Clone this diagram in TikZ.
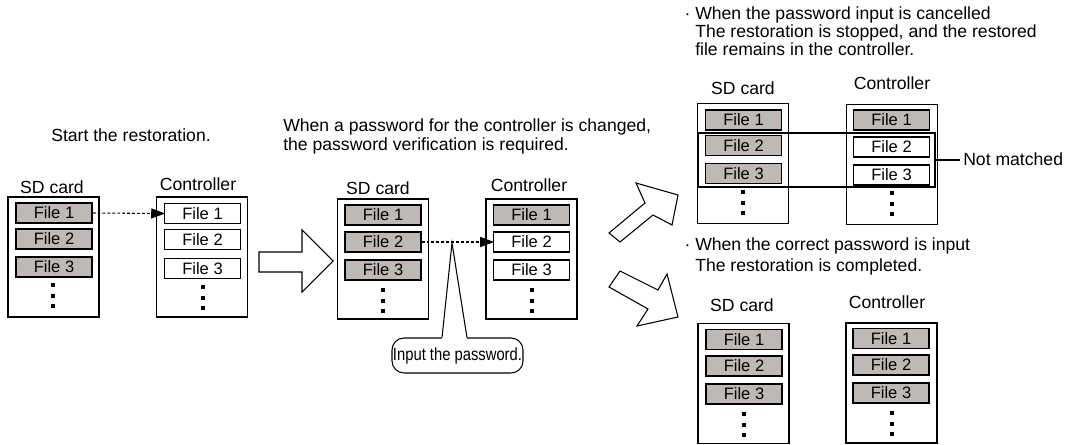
\documentclass[tikz,border=0pt]{standalone}
\usepackage{fontspec}
\setmainfont{Liberation Sans}
\newfontfamily\narrowfont[FakeStretch=0.84]{Liberation Sans}
\usetikzlibrary{arrows.meta,positioning}
\definecolor{filegray}{RGB}{190,185,182}
\begin{document}
\begin{tikzpicture}[x=0.75pt,y=-0.75pt,>=Latex,font=\fontsize{13.2}{14.25}\selectfont,
 box/.style={draw,line width=0.8pt,minimum width=68.25pt,minimum height=90pt,inner sep=0pt},
 fg/.style={draw,line width=0.9pt,fill=filegray,minimum width=57pt,minimum height=15pt,inner sep=0pt,font=\fontsize{12.4}{14}\selectfont},
 fw/.style={fg,fill=white},
 lbl/.style={inner sep=0pt},
 vd/.style={line width=3pt,dash pattern=on 3pt off 4.9pt},
 cp/.style={->,line width=0.8pt,dash pattern=on 2.2pt off 1.5pt,shorten >=-1pt,>={Triangle[length=10.5pt,width=7.5pt]}},
 hollow/.style={draw,line width=0.8pt,fill=white,line join=miter},
 hl/.style={draw,line width=1.6pt,minimum width=177.75pt,minimum height=40.5pt,inner sep=0pt},
 callbox/.style={draw,line width=0.8pt,fill=white,rounded corners=9pt,minimum width=98.25pt,minimum height=26.25pt,inner sep=0pt,font=\narrowfont\fontsize{13.2}{14}\selectfont}]
\useasboundingbox (0,0) rectangle (1084,445);
\node[lbl] (t1) at (131,135) {Start the restoration.};
\node[lbl,anchor=west,align=left] (t2) at (283,136.5) {When a password for the controller is changed,\\the password verification is required.};
\node[lbl,anchor=west,align=left,font=\fontsize{13.2}{13.5}\selectfont] (t3) at (695,31) {\llap{·\ }When the password input is cancelled\\The restoration is stopped, and the restored\\file remains in the controller.};
\node[lbl,anchor=west,align=left,font=\fontsize{13.2}{15.5}\selectfont] (t4) at (695,256.5) {\llap{·\ }When the correct password is input\\The restoration is completed.};
\node[box] (sd1) at (53.5,257) {}; \node[lbl] (sd1l) at (52,187) {SD card};
\node[fg] (sd1a) at (54,213) {File 1}; \node[fg] (sd1b) at (54,239) {File 2}; \node[fg] (sd1c) at (54,267) {File 3};
\draw[vd] (53,283) -- (53,312);
\node[box] (c1) at (202,257) {}; \node[lbl] (c1l) at (198,184) {Controller};
\node[fw] (c1a) at (202.5,213.5) {File 1}; \node[fw] (c1b) at (202.5,239.5) {File 2}; \node[fw] (c1c) at (202.5,268.5) {File 3};
\draw[vd] (203,285) -- (203,314);
\draw[hollow] (259,252) -- (302,252) -- (302,230) -- (333,261) -- (302,292) -- (302,272) -- (259,272) -- cycle;
\node[box] (sd2) at (383,259) {}; \node[lbl] (sd2l) at (378,188) {SD card};
\node[fg] (sd2a) at (383,215) {File 1}; \node[fg] (sd2b) at (383,242) {File 2}; \node[fg] (sd2c) at (383,270) {File 3};
\draw[vd] (383,288) -- (383,317);
\node[box] (c2) at (531.5,259) {}; \node[lbl] (c2l) at (529,185) {Controller};
\node[fg] (c2a) at (531.5,215) {File 1}; \node[fw] (c2b) at (531.5,242) {File 2}; \node[fw] (c2c) at (531.5,270) {File 3};
\draw[vd] (532,288) -- (532,317);
\node[callbox] (inp) at (457.5,355.5) {Input the password.};
\coordinate (ptip) at (452,243);
\fill[white] ([xshift=-11.6pt,yshift=-1pt]inp.north) -- (ptip) -- ([xshift=7.1pt,yshift=-1pt]inp.north) -- cycle;
\draw[line width=0.8pt] ([xshift=-11.6pt]inp.north) -- (ptip) -- ([xshift=7.1pt]inp.north);
\draw[cp] (sd1a.east) -- (c1a.west);
\draw[cp] (sd2b.east) -- (c2b.west);
\draw[hollow] (609,233) -- (645,203) -- (636,183) -- (678,195) -- (672,225) -- (653,215) -- (620,242) -- cycle;
\draw[hollow] (620,271) -- (658,290) -- (667,274) -- (678,317) -- (637,326) -- (648,309) -- (609,287) -- cycle;
\node[box] (sd3) at (743,163.5) {}; \node[lbl] (sd3l) at (743,88) {SD card};
\node[fg] (sd3a) at (743.5,120) {File 1}; \node[fg] (sd3b) at (743.5,145.5) {File 2}; \node[fg] (sd3c) at (743.5,173.5) {File 3};
\draw[vd] (743,190) -- (743,219);
\node[box] (c3) at (892,164.5) {}; \node[lbl] (c3l) at (892,83) {Controller};
\node[fg] (c3a) at (891.5,120) {File 1}; \node[fw] (c3b) at (891.5,147) {File 2}; \node[fw] (c3c) at (891.5,175) {File 3};
\draw[vd] (892,191) -- (892,220);
\node[hl] (nm) at (816.5,160) {};
\node[lbl,anchor=west] (nmt) at (963,159) {Not matched};
\draw[line width=1.6pt] (nm.east) -- ([xshift=-2pt]nm.east -| nmt.west);
\node[box] (sd4) at (743.5,383.5) {}; \node[lbl] (sd4l) at (742,305) {SD card};
\node[fg] (sd4a) at (744,339.5) {File 1}; \node[fg] (sd4b) at (744,366) {File 2}; \node[fg] (sd4c) at (744,394) {File 3};
\draw[vd] (744,412) -- (744,441);
\node[box] (c4) at (891.5,383) {}; \node[lbl] (c4l) at (887,302) {Controller};
\node[fg] (c4a) at (891,338.5) {File 1}; \node[fg] (c4b) at (891,365) {File 2}; \node[fg] (c4c) at (891,393) {File 3};
\draw[vd] (892,411) -- (892,440);
\end{tikzpicture}
\end{document}
